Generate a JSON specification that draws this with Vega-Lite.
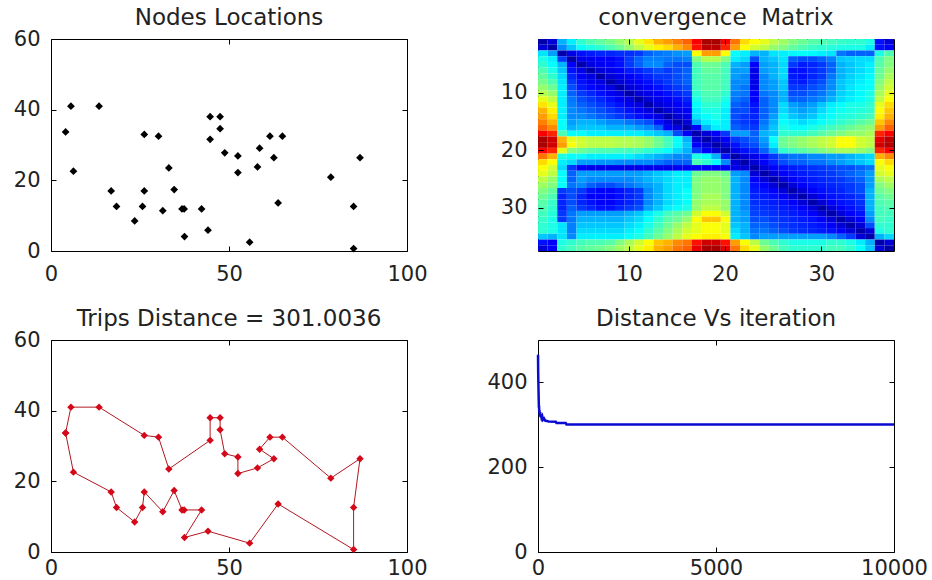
{
"$schema": "https://vega.github.io/schema/vega-lite/v6.json",
"background": "white",
"padding": {"left": 12, "top": 6, "right": 10, "bottom": 2},
"columns": 2,
"spacing": {"row": 89, "column": 131},
"bounds": "flush",
"config": {
  "view": {"stroke": "black", "strokeWidth": 1},
  "font": "DejaVu Sans",
  "axis": {"domain": false, "grid": false, "tickSize": -5, "tickColor": "black", "labelPadding": 16, "labelFont": "DejaVu Sans", "labelFontSize": 21, "labelColor": "#222222", "labelFlush": false, "labelOverlap": false},
  "title": {"font": "DejaVu Sans", "fontSize": 23, "fontWeight": "normal", "color": "#222222", "offset": 0}
},
"datasets": {
  "nodes": [
    {"i":1,"x":4.1,"y":33.7},{"i":2,"x":5.6,"y":41.0},{"i":3,"x":13.5,"y":41.0},{"i":4,"x":26.2,"y":33.0},{"i":5,"x":30.2,"y":32.5},{"i":6,"x":33.1,"y":23.5},{"i":7,"x":44.7,"y":31.6},{"i":8,"x":44.7,"y":38.0},{"i":9,"x":47.5,"y":38.0},{"i":10,"x":47.5,"y":34.6},{"i":11,"x":48.8,"y":27.8},{"i":12,"x":52.5,"y":26.9},{"i":13,"x":52.5,"y":22.2},{"i":14,"x":58.0,"y":23.8},{"i":15,"x":62.6,"y":26.4},{"i":16,"x":58.6,"y":29.1},{"i":17,"x":61.5,"y":32.5},{"i":18,"x":65.0,"y":32.5},{"i":19,"x":78.6,"y":20.9},{"i":20,"x":86.8,"y":26.4},{"i":21,"x":85.0,"y":12.6},{"i":22,"x":85.0,"y":0.7},{"i":23,"x":63.8,"y":13.6},{"i":24,"x":55.8,"y":2.5},{"i":25,"x":44.1,"y":5.9},{"i":26,"x":37.5,"y":4.1},{"i":27,"x":42.3,"y":11.9},{"i":28,"x":37.4,"y":11.9},{"i":29,"x":36.8,"y":11.9},{"i":30,"x":34.6,"y":17.4},{"i":31,"x":31.4,"y":11.4},{"i":32,"x":26.2,"y":17.0},{"i":33,"x":25.7,"y":12.6},{"i":34,"x":23.5,"y":8.5},{"i":35,"x":18.4,"y":12.6},{"i":36,"x":16.9,"y":17.0},{"i":37,"x":6.3,"y":22.6}
  ],
  "tour": [
    {"i":1,"x":4.1,"y":33.7},{"i":2,"x":5.6,"y":41.0},{"i":3,"x":13.5,"y":41.0},{"i":4,"x":26.2,"y":33.0},{"i":5,"x":30.2,"y":32.5},{"i":6,"x":33.1,"y":23.5},{"i":7,"x":44.7,"y":31.6},{"i":8,"x":44.7,"y":38.0},{"i":9,"x":47.5,"y":38.0},{"i":10,"x":47.5,"y":34.6},{"i":11,"x":48.8,"y":27.8},{"i":12,"x":52.5,"y":26.9},{"i":13,"x":52.5,"y":22.2},{"i":14,"x":58.0,"y":23.8},{"i":15,"x":62.6,"y":26.4},{"i":16,"x":58.6,"y":29.1},{"i":17,"x":61.5,"y":32.5},{"i":18,"x":65.0,"y":32.5},{"i":19,"x":78.6,"y":20.9},{"i":20,"x":86.8,"y":26.4},{"i":21,"x":85.0,"y":12.6},{"i":22,"x":85.0,"y":0.7},{"i":23,"x":63.8,"y":13.6},{"i":24,"x":55.8,"y":2.5},{"i":25,"x":44.1,"y":5.9},{"i":26,"x":37.5,"y":4.1},{"i":27,"x":42.3,"y":11.9},{"i":28,"x":37.4,"y":11.9},{"i":29,"x":36.8,"y":11.9},{"i":30,"x":34.6,"y":17.4},{"i":31,"x":31.4,"y":11.4},{"i":32,"x":26.2,"y":17.0},{"i":33,"x":25.7,"y":12.6},{"i":34,"x":23.5,"y":8.5},{"i":35,"x":18.4,"y":12.6},{"i":36,"x":16.9,"y":17.0},{"i":37,"x":6.3,"y":22.6},{"i":38,"x":4.1,"y":33.7}
  ],
  "conv": [
    {"it":1,"d":465},{"it":3,"d":440},{"it":6,"d":420},{"it":10,"d":400},{"it":15,"d":380},{"it":20,"d":360},{"it":25,"d":340},{"it":30,"d":345},{"it":35,"d":330},{"it":40,"d":335},{"it":50,"d":322},{"it":60,"d":330},{"it":70,"d":318},{"it":80,"d":325},{"it":100,"d":316},{"it":120,"d":320},{"it":140,"d":312},{"it":170,"d":315},{"it":200,"d":310},{"it":250,"d":309},{"it":300,"d":308},{"it":500,"d":307},{"it":520,"d":304},{"it":780,"d":304},{"it":800,"d":301},{"it":10000,"d":301}
  ],
  "m": [
{"r":1,"c":1,"v":3},{"r":1,"c":2,"v":8},{"r":1,"c":3,"v":30},{"r":1,"c":4,"v":36},{"r":1,"c":5,"v":42},{"r":1,"c":6,"v":45},{"r":1,"c":7,"v":47},{"r":1,"c":8,"v":49},{"r":1,"c":9,"v":52},{"r":1,"c":10,"v":55},{"r":1,"c":11,"v":60},{"r":1,"c":12,"v":65},{"r":1,"c":13,"v":70},{"r":1,"c":14,"v":72},{"r":1,"c":15,"v":75},{"r":1,"c":16,"v":78},{"r":1,"c":17,"v":88},{"r":1,"c":18,"v":96},{"r":1,"c":19,"v":96},{"r":1,"c":20,"v":88},{"r":1,"c":21,"v":76},{"r":1,"c":22,"v":66},{"r":1,"c":23,"v":62},{"r":1,"c":24,"v":60},{"r":1,"c":25,"v":56},{"r":1,"c":26,"v":53},{"r":1,"c":27,"v":50},{"r":1,"c":28,"v":48},{"r":1,"c":29,"v":46},{"r":1,"c":30,"v":45},{"r":1,"c":31,"v":44},{"r":1,"c":32,"v":43},{"r":1,"c":33,"v":42},{"r":1,"c":34,"v":42},{"r":1,"c":35,"v":40},{"r":1,"c":36,"v":14},{"r":1,"c":37,"v":8},
{"r":2,"c":1,"v":8},{"r":2,"c":2,"v":3},{"r":2,"c":3,"v":26},{"r":2,"c":4,"v":32},{"r":2,"c":5,"v":38},{"r":2,"c":6,"v":40},{"r":2,"c":7,"v":42},{"r":2,"c":8,"v":45},{"r":2,"c":9,"v":48},{"r":2,"c":10,"v":52},{"r":2,"c":11,"v":56},{"r":2,"c":12,"v":60},{"r":2,"c":13,"v":64},{"r":2,"c":14,"v":66},{"r":2,"c":15,"v":70},{"r":2,"c":16,"v":74},{"r":2,"c":17,"v":86},{"r":2,"c":18,"v":94},{"r":2,"c":19,"v":94},{"r":2,"c":20,"v":84},{"r":2,"c":21,"v":72},{"r":2,"c":22,"v":62},{"r":2,"c":23,"v":58},{"r":2,"c":24,"v":56},{"r":2,"c":25,"v":52},{"r":2,"c":26,"v":50},{"r":2,"c":27,"v":47},{"r":2,"c":28,"v":45},{"r":2,"c":29,"v":43},{"r":2,"c":30,"v":42},{"r":2,"c":31,"v":41},{"r":2,"c":32,"v":40},{"r":2,"c":33,"v":40},{"r":2,"c":34,"v":40},{"r":2,"c":35,"v":36},{"r":2,"c":36,"v":14},{"r":2,"c":37,"v":12},
{"r":3,"c":1,"v":35},{"r":3,"c":2,"v":28},{"r":3,"c":3,"v":3},{"r":3,"c":4,"v":10},{"r":3,"c":5,"v":14},{"r":3,"c":6,"v":15},{"r":3,"c":7,"v":16},{"r":3,"c":8,"v":16},{"r":3,"c":9,"v":17},{"r":3,"c":10,"v":17},{"r":3,"c":11,"v":18},{"r":3,"c":12,"v":22},{"r":3,"c":13,"v":24},{"r":3,"c":14,"v":25},{"r":3,"c":15,"v":27},{"r":3,"c":16,"v":28},{"r":3,"c":17,"v":62},{"r":3,"c":18,"v":72},{"r":3,"c":19,"v":72},{"r":3,"c":20,"v":62},{"r":3,"c":21,"v":38},{"r":3,"c":22,"v":36},{"r":3,"c":23,"v":30},{"r":3,"c":24,"v":30},{"r":3,"c":25,"v":35},{"r":3,"c":26,"v":36},{"r":3,"c":27,"v":37},{"r":3,"c":28,"v":38},{"r":3,"c":29,"v":37},{"r":3,"c":30,"v":36},{"r":3,"c":31,"v":35},{"r":3,"c":32,"v":24},{"r":3,"c":33,"v":22},{"r":3,"c":34,"v":22},{"r":3,"c":35,"v":22},{"r":3,"c":36,"v":40},{"r":3,"c":37,"v":45},
{"r":4,"c":1,"v":40},{"r":4,"c":2,"v":36},{"r":4,"c":3,"v":18},{"r":4,"c":4,"v":3},{"r":4,"c":5,"v":10},{"r":4,"c":6,"v":11},{"r":4,"c":7,"v":12},{"r":4,"c":8,"v":12},{"r":4,"c":9,"v":14},{"r":4,"c":10,"v":18},{"r":4,"c":11,"v":22},{"r":4,"c":12,"v":25},{"r":4,"c":13,"v":25},{"r":4,"c":14,"v":24},{"r":4,"c":15,"v":24},{"r":4,"c":16,"v":25},{"r":4,"c":17,"v":50},{"r":4,"c":18,"v":55},{"r":4,"c":19,"v":55},{"r":4,"c":20,"v":50},{"r":4,"c":21,"v":36},{"r":4,"c":22,"v":34},{"r":4,"c":23,"v":20},{"r":4,"c":24,"v":30},{"r":4,"c":25,"v":32},{"r":4,"c":26,"v":35},{"r":4,"c":27,"v":22},{"r":4,"c":28,"v":20},{"r":4,"c":29,"v":20},{"r":4,"c":30,"v":22},{"r":4,"c":31,"v":25},{"r":4,"c":32,"v":32},{"r":4,"c":33,"v":33},{"r":4,"c":34,"v":34},{"r":4,"c":35,"v":34},{"r":4,"c":36,"v":45},{"r":4,"c":37,"v":50},
{"r":5,"c":1,"v":42},{"r":5,"c":2,"v":38},{"r":5,"c":3,"v":30},{"r":5,"c":4,"v":12},{"r":5,"c":5,"v":3},{"r":5,"c":6,"v":9},{"r":5,"c":7,"v":11},{"r":5,"c":8,"v":12},{"r":5,"c":9,"v":14},{"r":5,"c":10,"v":18},{"r":5,"c":11,"v":22},{"r":5,"c":12,"v":26},{"r":5,"c":13,"v":26},{"r":5,"c":14,"v":22},{"r":5,"c":15,"v":20},{"r":5,"c":16,"v":20},{"r":5,"c":17,"v":45},{"r":5,"c":18,"v":48},{"r":5,"c":19,"v":48},{"r":5,"c":20,"v":45},{"r":5,"c":21,"v":30},{"r":5,"c":22,"v":28},{"r":5,"c":23,"v":12},{"r":5,"c":24,"v":28},{"r":5,"c":25,"v":30},{"r":5,"c":26,"v":34},{"r":5,"c":27,"v":18},{"r":5,"c":28,"v":15},{"r":5,"c":29,"v":16},{"r":5,"c":30,"v":18},{"r":5,"c":31,"v":22},{"r":5,"c":32,"v":30},{"r":5,"c":33,"v":32},{"r":5,"c":34,"v":34},{"r":5,"c":35,"v":36},{"r":5,"c":36,"v":46},{"r":5,"c":37,"v":50},
{"r":6,"c":1,"v":45},{"r":6,"c":2,"v":40},{"r":6,"c":3,"v":32},{"r":6,"c":4,"v":14},{"r":6,"c":5,"v":10},{"r":6,"c":6,"v":3},{"r":6,"c":7,"v":8},{"r":6,"c":8,"v":10},{"r":6,"c":9,"v":12},{"r":6,"c":10,"v":15},{"r":6,"c":11,"v":16},{"r":6,"c":12,"v":18},{"r":6,"c":13,"v":20},{"r":6,"c":14,"v":18},{"r":6,"c":15,"v":20},{"r":6,"c":16,"v":22},{"r":6,"c":17,"v":44},{"r":6,"c":18,"v":47},{"r":6,"c":19,"v":47},{"r":6,"c":20,"v":44},{"r":6,"c":21,"v":28},{"r":6,"c":22,"v":28},{"r":6,"c":23,"v":10},{"r":6,"c":24,"v":28},{"r":6,"c":25,"v":30},{"r":6,"c":26,"v":34},{"r":6,"c":27,"v":14},{"r":6,"c":28,"v":14},{"r":6,"c":29,"v":16},{"r":6,"c":30,"v":18},{"r":6,"c":31,"v":22},{"r":6,"c":32,"v":30},{"r":6,"c":33,"v":32},{"r":6,"c":34,"v":34},{"r":6,"c":35,"v":36},{"r":6,"c":36,"v":47},{"r":6,"c":37,"v":52},
{"r":7,"c":1,"v":47},{"r":7,"c":2,"v":42},{"r":7,"c":3,"v":34},{"r":7,"c":4,"v":16},{"r":7,"c":5,"v":12},{"r":7,"c":6,"v":9},{"r":7,"c":7,"v":3},{"r":7,"c":8,"v":8},{"r":7,"c":9,"v":10},{"r":7,"c":10,"v":12},{"r":7,"c":11,"v":14},{"r":7,"c":12,"v":16},{"r":7,"c":13,"v":18},{"r":7,"c":14,"v":18},{"r":7,"c":15,"v":20},{"r":7,"c":16,"v":22},{"r":7,"c":17,"v":44},{"r":7,"c":18,"v":46},{"r":7,"c":19,"v":46},{"r":7,"c":20,"v":44},{"r":7,"c":21,"v":28},{"r":7,"c":22,"v":26},{"r":7,"c":23,"v":10},{"r":7,"c":24,"v":26},{"r":7,"c":25,"v":30},{"r":7,"c":26,"v":34},{"r":7,"c":27,"v":15},{"r":7,"c":28,"v":14},{"r":7,"c":29,"v":16},{"r":7,"c":30,"v":18},{"r":7,"c":31,"v":24},{"r":7,"c":32,"v":30},{"r":7,"c":33,"v":33},{"r":7,"c":34,"v":35},{"r":7,"c":35,"v":37},{"r":7,"c":36,"v":48},{"r":7,"c":37,"v":54},
{"r":8,"c":1,"v":49},{"r":8,"c":2,"v":45},{"r":8,"c":3,"v":35},{"r":8,"c":4,"v":18},{"r":8,"c":5,"v":14},{"r":8,"c":6,"v":11},{"r":8,"c":7,"v":9},{"r":8,"c":8,"v":3},{"r":8,"c":9,"v":8},{"r":8,"c":10,"v":10},{"r":8,"c":11,"v":12},{"r":8,"c":12,"v":14},{"r":8,"c":13,"v":16},{"r":8,"c":14,"v":18},{"r":8,"c":15,"v":20},{"r":8,"c":16,"v":22},{"r":8,"c":17,"v":44},{"r":8,"c":18,"v":46},{"r":8,"c":19,"v":46},{"r":8,"c":20,"v":44},{"r":8,"c":21,"v":26},{"r":8,"c":22,"v":26},{"r":8,"c":23,"v":10},{"r":8,"c":24,"v":26},{"r":8,"c":25,"v":28},{"r":8,"c":26,"v":32},{"r":8,"c":27,"v":16},{"r":8,"c":28,"v":15},{"r":8,"c":29,"v":18},{"r":8,"c":30,"v":20},{"r":8,"c":31,"v":26},{"r":8,"c":32,"v":32},{"r":8,"c":33,"v":34},{"r":8,"c":34,"v":36},{"r":8,"c":35,"v":38},{"r":8,"c":36,"v":50},{"r":8,"c":37,"v":56},
{"r":9,"c":1,"v":52},{"r":9,"c":2,"v":48},{"r":9,"c":3,"v":36},{"r":9,"c":4,"v":20},{"r":9,"c":5,"v":15},{"r":9,"c":6,"v":13},{"r":9,"c":7,"v":11},{"r":9,"c":8,"v":9},{"r":9,"c":9,"v":3},{"r":9,"c":10,"v":8},{"r":9,"c":11,"v":10},{"r":9,"c":12,"v":12},{"r":9,"c":13,"v":14},{"r":9,"c":14,"v":16},{"r":9,"c":15,"v":18},{"r":9,"c":16,"v":20},{"r":9,"c":17,"v":44},{"r":9,"c":18,"v":46},{"r":9,"c":19,"v":46},{"r":9,"c":20,"v":44},{"r":9,"c":21,"v":26},{"r":9,"c":22,"v":24},{"r":9,"c":23,"v":10},{"r":9,"c":24,"v":26},{"r":9,"c":25,"v":28},{"r":9,"c":26,"v":32},{"r":9,"c":27,"v":18},{"r":9,"c":28,"v":18},{"r":9,"c":29,"v":20},{"r":9,"c":30,"v":22},{"r":9,"c":31,"v":26},{"r":9,"c":32,"v":32},{"r":9,"c":33,"v":35},{"r":9,"c":34,"v":37},{"r":9,"c":35,"v":38},{"r":9,"c":36,"v":52},{"r":9,"c":37,"v":58},
{"r":10,"c":1,"v":55},{"r":10,"c":2,"v":52},{"r":10,"c":3,"v":36},{"r":10,"c":4,"v":22},{"r":10,"c":5,"v":18},{"r":10,"c":6,"v":16},{"r":10,"c":7,"v":14},{"r":10,"c":8,"v":11},{"r":10,"c":9,"v":9},{"r":10,"c":10,"v":3},{"r":10,"c":11,"v":8},{"r":10,"c":12,"v":10},{"r":10,"c":13,"v":12},{"r":10,"c":14,"v":14},{"r":10,"c":15,"v":16},{"r":10,"c":16,"v":18},{"r":10,"c":17,"v":42},{"r":10,"c":18,"v":45},{"r":10,"c":19,"v":45},{"r":10,"c":20,"v":42},{"r":10,"c":21,"v":25},{"r":10,"c":22,"v":24},{"r":10,"c":23,"v":12},{"r":10,"c":24,"v":24},{"r":10,"c":25,"v":26},{"r":10,"c":26,"v":30},{"r":10,"c":27,"v":20},{"r":10,"c":28,"v":20},{"r":10,"c":29,"v":22},{"r":10,"c":30,"v":24},{"r":10,"c":31,"v":28},{"r":10,"c":32,"v":33},{"r":10,"c":33,"v":35},{"r":10,"c":34,"v":37},{"r":10,"c":35,"v":40},{"r":10,"c":36,"v":54},{"r":10,"c":37,"v":60},
{"r":11,"c":1,"v":60},{"r":11,"c":2,"v":56},{"r":11,"c":3,"v":36},{"r":11,"c":4,"v":24},{"r":11,"c":5,"v":20},{"r":11,"c":6,"v":18},{"r":11,"c":7,"v":16},{"r":11,"c":8,"v":14},{"r":11,"c":9,"v":11},{"r":11,"c":10,"v":9},{"r":11,"c":11,"v":3},{"r":11,"c":12,"v":8},{"r":11,"c":13,"v":10},{"r":11,"c":14,"v":12},{"r":11,"c":15,"v":14},{"r":11,"c":16,"v":16},{"r":11,"c":17,"v":40},{"r":11,"c":18,"v":44},{"r":11,"c":19,"v":44},{"r":11,"c":20,"v":40},{"r":11,"c":21,"v":24},{"r":11,"c":22,"v":22},{"r":11,"c":23,"v":12},{"r":11,"c":24,"v":22},{"r":11,"c":25,"v":26},{"r":11,"c":26,"v":30},{"r":11,"c":27,"v":22},{"r":11,"c":28,"v":22},{"r":11,"c":29,"v":24},{"r":11,"c":30,"v":26},{"r":11,"c":31,"v":30},{"r":11,"c":32,"v":34},{"r":11,"c":33,"v":36},{"r":11,"c":34,"v":38},{"r":11,"c":35,"v":40},{"r":11,"c":36,"v":56},{"r":11,"c":37,"v":62},
{"r":12,"c":1,"v":65},{"r":12,"c":2,"v":60},{"r":12,"c":3,"v":36},{"r":12,"c":4,"v":25},{"r":12,"c":5,"v":22},{"r":12,"c":6,"v":20},{"r":12,"c":7,"v":18},{"r":12,"c":8,"v":16},{"r":12,"c":9,"v":14},{"r":12,"c":10,"v":11},{"r":12,"c":11,"v":9},{"r":12,"c":12,"v":3},{"r":12,"c":13,"v":8},{"r":12,"c":14,"v":10},{"r":12,"c":15,"v":12},{"r":12,"c":16,"v":14},{"r":12,"c":17,"v":38},{"r":12,"c":18,"v":42},{"r":12,"c":19,"v":42},{"r":12,"c":20,"v":38},{"r":12,"c":21,"v":22},{"r":12,"c":22,"v":20},{"r":12,"c":23,"v":14},{"r":12,"c":24,"v":22},{"r":12,"c":25,"v":26},{"r":12,"c":26,"v":34},{"r":12,"c":27,"v":28},{"r":12,"c":28,"v":26},{"r":12,"c":29,"v":28},{"r":12,"c":30,"v":32},{"r":12,"c":31,"v":36},{"r":12,"c":32,"v":38},{"r":12,"c":33,"v":40},{"r":12,"c":34,"v":40},{"r":12,"c":35,"v":42},{"r":12,"c":36,"v":60},{"r":12,"c":37,"v":66},
{"r":13,"c":1,"v":70},{"r":13,"c":2,"v":64},{"r":13,"c":3,"v":36},{"r":13,"c":4,"v":26},{"r":13,"c":5,"v":24},{"r":13,"c":6,"v":22},{"r":13,"c":7,"v":20},{"r":13,"c":8,"v":18},{"r":13,"c":9,"v":16},{"r":13,"c":10,"v":14},{"r":13,"c":11,"v":11},{"r":13,"c":12,"v":9},{"r":13,"c":13,"v":3},{"r":13,"c":14,"v":8},{"r":13,"c":15,"v":10},{"r":13,"c":16,"v":12},{"r":13,"c":17,"v":36},{"r":13,"c":18,"v":40},{"r":13,"c":19,"v":40},{"r":13,"c":20,"v":36},{"r":13,"c":21,"v":20},{"r":13,"c":22,"v":20},{"r":13,"c":23,"v":15},{"r":13,"c":24,"v":22},{"r":13,"c":25,"v":26},{"r":13,"c":26,"v":34},{"r":13,"c":27,"v":30},{"r":13,"c":28,"v":28},{"r":13,"c":29,"v":30},{"r":13,"c":30,"v":34},{"r":13,"c":31,"v":37},{"r":13,"c":32,"v":39},{"r":13,"c":33,"v":40},{"r":13,"c":34,"v":41},{"r":13,"c":35,"v":42},{"r":13,"c":36,"v":62},{"r":13,"c":37,"v":68},
{"r":14,"c":1,"v":72},{"r":14,"c":2,"v":66},{"r":14,"c":3,"v":36},{"r":14,"c":4,"v":26},{"r":14,"c":5,"v":26},{"r":14,"c":6,"v":24},{"r":14,"c":7,"v":22},{"r":14,"c":8,"v":20},{"r":14,"c":9,"v":18},{"r":14,"c":10,"v":16},{"r":14,"c":11,"v":14},{"r":14,"c":12,"v":11},{"r":14,"c":13,"v":9},{"r":14,"c":14,"v":3},{"r":14,"c":15,"v":8},{"r":14,"c":16,"v":10},{"r":14,"c":17,"v":35},{"r":14,"c":18,"v":38},{"r":14,"c":19,"v":40},{"r":14,"c":20,"v":36},{"r":14,"c":21,"v":20},{"r":14,"c":22,"v":18},{"r":14,"c":23,"v":16},{"r":14,"c":24,"v":22},{"r":14,"c":25,"v":28},{"r":14,"c":26,"v":36},{"r":14,"c":27,"v":32},{"r":14,"c":28,"v":30},{"r":14,"c":29,"v":32},{"r":14,"c":30,"v":36},{"r":14,"c":31,"v":38},{"r":14,"c":32,"v":40},{"r":14,"c":33,"v":41},{"r":14,"c":34,"v":42},{"r":14,"c":35,"v":44},{"r":14,"c":36,"v":64},{"r":14,"c":37,"v":70},
{"r":15,"c":1,"v":75},{"r":15,"c":2,"v":70},{"r":15,"c":3,"v":38},{"r":15,"c":4,"v":28},{"r":15,"c":5,"v":30},{"r":15,"c":6,"v":30},{"r":15,"c":7,"v":28},{"r":15,"c":8,"v":26},{"r":15,"c":9,"v":26},{"r":15,"c":10,"v":24},{"r":15,"c":11,"v":22},{"r":15,"c":12,"v":20},{"r":15,"c":13,"v":14},{"r":15,"c":14,"v":9},{"r":15,"c":15,"v":3},{"r":15,"c":16,"v":8},{"r":15,"c":17,"v":30},{"r":15,"c":18,"v":36},{"r":15,"c":19,"v":38},{"r":15,"c":20,"v":36},{"r":15,"c":21,"v":20},{"r":15,"c":22,"v":18},{"r":15,"c":23,"v":16},{"r":15,"c":24,"v":24},{"r":15,"c":25,"v":30},{"r":15,"c":26,"v":38},{"r":15,"c":27,"v":36},{"r":15,"c":28,"v":34},{"r":15,"c":29,"v":36},{"r":15,"c":30,"v":38},{"r":15,"c":31,"v":40},{"r":15,"c":32,"v":42},{"r":15,"c":33,"v":44},{"r":15,"c":34,"v":46},{"r":15,"c":35,"v":48},{"r":15,"c":36,"v":68},{"r":15,"c":37,"v":74},
{"r":16,"c":1,"v":78},{"r":16,"c":2,"v":74},{"r":16,"c":3,"v":38},{"r":16,"c":4,"v":30},{"r":16,"c":5,"v":32},{"r":16,"c":6,"v":32},{"r":16,"c":7,"v":32},{"r":16,"c":8,"v":30},{"r":16,"c":9,"v":30},{"r":16,"c":10,"v":30},{"r":16,"c":11,"v":28},{"r":16,"c":12,"v":26},{"r":16,"c":13,"v":22},{"r":16,"c":14,"v":12},{"r":16,"c":15,"v":9},{"r":16,"c":16,"v":3},{"r":16,"c":17,"v":12},{"r":16,"c":18,"v":30},{"r":16,"c":19,"v":36},{"r":16,"c":20,"v":36},{"r":16,"c":21,"v":22},{"r":16,"c":22,"v":20},{"r":16,"c":23,"v":18},{"r":16,"c":24,"v":26},{"r":16,"c":25,"v":32},{"r":16,"c":26,"v":40},{"r":16,"c":27,"v":38},{"r":16,"c":28,"v":38},{"r":16,"c":29,"v":40},{"r":16,"c":30,"v":42},{"r":16,"c":31,"v":44},{"r":16,"c":32,"v":46},{"r":16,"c":33,"v":48},{"r":16,"c":34,"v":50},{"r":16,"c":35,"v":52},{"r":16,"c":36,"v":72},{"r":16,"c":37,"v":78},
{"r":17,"c":1,"v":88},{"r":17,"c":2,"v":84},{"r":17,"c":3,"v":45},{"r":17,"c":4,"v":38},{"r":17,"c":5,"v":38},{"r":17,"c":6,"v":36},{"r":17,"c":7,"v":36},{"r":17,"c":8,"v":36},{"r":17,"c":9,"v":36},{"r":17,"c":10,"v":36},{"r":17,"c":11,"v":36},{"r":17,"c":12,"v":34},{"r":17,"c":13,"v":32},{"r":17,"c":14,"v":30},{"r":17,"c":15,"v":20},{"r":17,"c":16,"v":12},{"r":17,"c":17,"v":3},{"r":17,"c":18,"v":8},{"r":17,"c":19,"v":12},{"r":17,"c":20,"v":18},{"r":17,"c":21,"v":28},{"r":17,"c":22,"v":28},{"r":17,"c":23,"v":22},{"r":17,"c":24,"v":30},{"r":17,"c":25,"v":32},{"r":17,"c":26,"v":42},{"r":17,"c":27,"v":42},{"r":17,"c":28,"v":42},{"r":17,"c":29,"v":44},{"r":17,"c":30,"v":46},{"r":17,"c":31,"v":48},{"r":17,"c":32,"v":50},{"r":17,"c":33,"v":52},{"r":17,"c":34,"v":52},{"r":17,"c":35,"v":54},{"r":17,"c":36,"v":84},{"r":17,"c":37,"v":88},
{"r":18,"c":1,"v":96},{"r":18,"c":2,"v":92},{"r":18,"c":3,"v":70},{"r":18,"c":4,"v":60},{"r":18,"c":5,"v":58},{"r":18,"c":6,"v":56},{"r":18,"c":7,"v":56},{"r":18,"c":8,"v":56},{"r":18,"c":9,"v":55},{"r":18,"c":10,"v":55},{"r":18,"c":11,"v":54},{"r":18,"c":12,"v":52},{"r":18,"c":13,"v":48},{"r":18,"c":14,"v":44},{"r":18,"c":15,"v":38},{"r":18,"c":16,"v":30},{"r":18,"c":17,"v":8},{"r":18,"c":18,"v":3},{"r":18,"c":19,"v":8},{"r":18,"c":20,"v":12},{"r":18,"c":21,"v":18},{"r":18,"c":22,"v":20},{"r":18,"c":23,"v":22},{"r":18,"c":24,"v":28},{"r":18,"c":25,"v":38},{"r":18,"c":26,"v":48},{"r":18,"c":27,"v":50},{"r":18,"c":28,"v":52},{"r":18,"c":29,"v":54},{"r":18,"c":30,"v":56},{"r":18,"c":31,"v":58},{"r":18,"c":32,"v":62},{"r":18,"c":33,"v":62},{"r":18,"c":34,"v":58},{"r":18,"c":35,"v":56},{"r":18,"c":36,"v":90},{"r":18,"c":37,"v":94},
{"r":19,"c":1,"v":96},{"r":19,"c":2,"v":92},{"r":19,"c":3,"v":72},{"r":19,"c":4,"v":62},{"r":19,"c":5,"v":58},{"r":19,"c":6,"v":56},{"r":19,"c":7,"v":56},{"r":19,"c":8,"v":56},{"r":19,"c":9,"v":55},{"r":19,"c":10,"v":55},{"r":19,"c":11,"v":54},{"r":19,"c":12,"v":52},{"r":19,"c":13,"v":48},{"r":19,"c":14,"v":44},{"r":19,"c":15,"v":38},{"r":19,"c":16,"v":32},{"r":19,"c":17,"v":12},{"r":19,"c":18,"v":8},{"r":19,"c":19,"v":3},{"r":19,"c":20,"v":8},{"r":19,"c":21,"v":14},{"r":19,"c":22,"v":18},{"r":19,"c":23,"v":20},{"r":19,"c":24,"v":26},{"r":19,"c":25,"v":36},{"r":19,"c":26,"v":48},{"r":19,"c":27,"v":50},{"r":19,"c":28,"v":52},{"r":19,"c":29,"v":54},{"r":19,"c":30,"v":56},{"r":19,"c":31,"v":58},{"r":19,"c":32,"v":62},{"r":19,"c":33,"v":62},{"r":19,"c":34,"v":58},{"r":19,"c":35,"v":56},{"r":19,"c":36,"v":92},{"r":19,"c":37,"v":95},
{"r":20,"c":1,"v":88},{"r":20,"c":2,"v":84},{"r":20,"c":3,"v":60},{"r":20,"c":4,"v":50},{"r":20,"c":5,"v":48},{"r":20,"c":6,"v":46},{"r":20,"c":7,"v":45},{"r":20,"c":8,"v":45},{"r":20,"c":9,"v":44},{"r":20,"c":10,"v":44},{"r":20,"c":11,"v":44},{"r":20,"c":12,"v":42},{"r":20,"c":13,"v":40},{"r":20,"c":14,"v":38},{"r":20,"c":15,"v":34},{"r":20,"c":16,"v":30},{"r":20,"c":17,"v":18},{"r":20,"c":18,"v":12},{"r":20,"c":19,"v":8},{"r":20,"c":20,"v":3},{"r":20,"c":21,"v":10},{"r":20,"c":22,"v":14},{"r":20,"c":23,"v":16},{"r":20,"c":24,"v":22},{"r":20,"c":25,"v":30},{"r":20,"c":26,"v":42},{"r":20,"c":27,"v":44},{"r":20,"c":28,"v":46},{"r":20,"c":29,"v":48},{"r":20,"c":30,"v":50},{"r":20,"c":31,"v":52},{"r":20,"c":32,"v":54},{"r":20,"c":33,"v":54},{"r":20,"c":34,"v":52},{"r":20,"c":35,"v":50},{"r":20,"c":36,"v":84},{"r":20,"c":37,"v":88},
{"r":21,"c":1,"v":76},{"r":21,"c":2,"v":70},{"r":21,"c":3,"v":40},{"r":21,"c":4,"v":38},{"r":21,"c":5,"v":38},{"r":21,"c":6,"v":36},{"r":21,"c":7,"v":36},{"r":21,"c":8,"v":36},{"r":21,"c":9,"v":36},{"r":21,"c":10,"v":36},{"r":21,"c":11,"v":34},{"r":21,"c":12,"v":32},{"r":21,"c":13,"v":30},{"r":21,"c":14,"v":28},{"r":21,"c":15,"v":26},{"r":21,"c":16,"v":26},{"r":21,"c":17,"v":40},{"r":21,"c":18,"v":38},{"r":21,"c":19,"v":30},{"r":21,"c":20,"v":14},{"r":21,"c":21,"v":3},{"r":21,"c":22,"v":8},{"r":21,"c":23,"v":10},{"r":21,"c":24,"v":14},{"r":21,"c":25,"v":18},{"r":21,"c":26,"v":22},{"r":21,"c":27,"v":24},{"r":21,"c":28,"v":24},{"r":21,"c":29,"v":26},{"r":21,"c":30,"v":26},{"r":21,"c":31,"v":28},{"r":21,"c":32,"v":28},{"r":21,"c":33,"v":30},{"r":21,"c":34,"v":32},{"r":21,"c":35,"v":34},{"r":21,"c":36,"v":70},{"r":21,"c":37,"v":74},
{"r":22,"c":1,"v":66},{"r":22,"c":2,"v":62},{"r":22,"c":3,"v":36},{"r":22,"c":4,"v":34},{"r":22,"c":5,"v":28},{"r":22,"c":6,"v":28},{"r":22,"c":7,"v":27},{"r":22,"c":8,"v":27},{"r":22,"c":9,"v":26},{"r":22,"c":10,"v":26},{"r":22,"c":11,"v":26},{"r":22,"c":12,"v":26},{"r":22,"c":13,"v":24},{"r":22,"c":14,"v":22},{"r":22,"c":15,"v":22},{"r":22,"c":16,"v":22},{"r":22,"c":17,"v":45},{"r":22,"c":18,"v":42},{"r":22,"c":19,"v":38},{"r":22,"c":20,"v":26},{"r":22,"c":21,"v":8},{"r":22,"c":22,"v":3},{"r":22,"c":23,"v":8},{"r":22,"c":24,"v":12},{"r":22,"c":25,"v":16},{"r":22,"c":26,"v":20},{"r":22,"c":27,"v":22},{"r":22,"c":28,"v":22},{"r":22,"c":29,"v":24},{"r":22,"c":30,"v":24},{"r":22,"c":31,"v":26},{"r":22,"c":32,"v":28},{"r":22,"c":33,"v":30},{"r":22,"c":34,"v":32},{"r":22,"c":35,"v":34},{"r":22,"c":36,"v":62},{"r":22,"c":37,"v":66},
{"r":23,"c":1,"v":62},{"r":23,"c":2,"v":58},{"r":23,"c":3,"v":34},{"r":23,"c":4,"v":18},{"r":23,"c":5,"v":12},{"r":23,"c":6,"v":10},{"r":23,"c":7,"v":10},{"r":23,"c":8,"v":10},{"r":23,"c":9,"v":10},{"r":23,"c":10,"v":10},{"r":23,"c":11,"v":10},{"r":23,"c":12,"v":10},{"r":23,"c":13,"v":10},{"r":23,"c":14,"v":10},{"r":23,"c":15,"v":11},{"r":23,"c":16,"v":11},{"r":23,"c":17,"v":12},{"r":23,"c":18,"v":12},{"r":23,"c":19,"v":12},{"r":23,"c":20,"v":12},{"r":23,"c":21,"v":10},{"r":23,"c":22,"v":8},{"r":23,"c":23,"v":3},{"r":23,"c":24,"v":8},{"r":23,"c":25,"v":12},{"r":23,"c":26,"v":14},{"r":23,"c":27,"v":15},{"r":23,"c":28,"v":16},{"r":23,"c":29,"v":17},{"r":23,"c":30,"v":18},{"r":23,"c":31,"v":19},{"r":23,"c":32,"v":20},{"r":23,"c":33,"v":20},{"r":23,"c":34,"v":22},{"r":23,"c":35,"v":24},{"r":23,"c":36,"v":60},{"r":23,"c":37,"v":62},
{"r":24,"c":1,"v":60},{"r":24,"c":2,"v":56},{"r":24,"c":3,"v":38},{"r":24,"c":4,"v":22},{"r":24,"c":5,"v":28},{"r":24,"c":6,"v":28},{"r":24,"c":7,"v":28},{"r":24,"c":8,"v":28},{"r":24,"c":9,"v":28},{"r":24,"c":10,"v":28},{"r":24,"c":11,"v":28},{"r":24,"c":12,"v":30},{"r":24,"c":13,"v":32},{"r":24,"c":14,"v":34},{"r":24,"c":15,"v":36},{"r":24,"c":16,"v":36},{"r":24,"c":17,"v":48},{"r":24,"c":18,"v":50},{"r":24,"c":19,"v":50},{"r":24,"c":20,"v":48},{"r":24,"c":21,"v":28},{"r":24,"c":22,"v":26},{"r":24,"c":23,"v":8},{"r":24,"c":24,"v":3},{"r":24,"c":25,"v":8},{"r":24,"c":26,"v":12},{"r":24,"c":27,"v":14},{"r":24,"c":28,"v":15},{"r":24,"c":29,"v":16},{"r":24,"c":30,"v":17},{"r":24,"c":31,"v":18},{"r":24,"c":32,"v":20},{"r":24,"c":33,"v":22},{"r":24,"c":34,"v":24},{"r":24,"c":35,"v":28},{"r":24,"c":36,"v":58},{"r":24,"c":37,"v":60},
{"r":25,"c":1,"v":56},{"r":25,"c":2,"v":52},{"r":25,"c":3,"v":38},{"r":25,"c":4,"v":22},{"r":25,"c":5,"v":28},{"r":25,"c":6,"v":26},{"r":25,"c":7,"v":26},{"r":25,"c":8,"v":26},{"r":25,"c":9,"v":26},{"r":25,"c":10,"v":26},{"r":25,"c":11,"v":28},{"r":25,"c":12,"v":30},{"r":25,"c":13,"v":32},{"r":25,"c":14,"v":34},{"r":25,"c":15,"v":36},{"r":25,"c":16,"v":36},{"r":25,"c":17,"v":50},{"r":25,"c":18,"v":52},{"r":25,"c":19,"v":52},{"r":25,"c":20,"v":50},{"r":25,"c":21,"v":30},{"r":25,"c":22,"v":26},{"r":25,"c":23,"v":12},{"r":25,"c":24,"v":8},{"r":25,"c":25,"v":3},{"r":25,"c":26,"v":8},{"r":25,"c":27,"v":12},{"r":25,"c":28,"v":14},{"r":25,"c":29,"v":15},{"r":25,"c":30,"v":16},{"r":25,"c":31,"v":17},{"r":25,"c":32,"v":18},{"r":25,"c":33,"v":20},{"r":25,"c":34,"v":22},{"r":25,"c":35,"v":28},{"r":25,"c":36,"v":54},{"r":25,"c":37,"v":56},
{"r":26,"c":1,"v":53},{"r":26,"c":2,"v":50},{"r":26,"c":3,"v":38},{"r":26,"c":4,"v":24},{"r":26,"c":5,"v":26},{"r":26,"c":6,"v":22},{"r":26,"c":7,"v":20},{"r":26,"c":8,"v":20},{"r":26,"c":9,"v":22},{"r":26,"c":10,"v":24},{"r":26,"c":11,"v":26},{"r":26,"c":12,"v":28},{"r":26,"c":13,"v":30},{"r":26,"c":14,"v":34},{"r":26,"c":15,"v":36},{"r":26,"c":16,"v":36},{"r":26,"c":17,"v":50},{"r":26,"c":18,"v":52},{"r":26,"c":19,"v":52},{"r":26,"c":20,"v":50},{"r":26,"c":21,"v":30},{"r":26,"c":22,"v":26},{"r":26,"c":23,"v":14},{"r":26,"c":24,"v":12},{"r":26,"c":25,"v":8},{"r":26,"c":26,"v":3},{"r":26,"c":27,"v":8},{"r":26,"c":28,"v":12},{"r":26,"c":29,"v":14},{"r":26,"c":30,"v":15},{"r":26,"c":31,"v":16},{"r":26,"c":32,"v":17},{"r":26,"c":33,"v":18},{"r":26,"c":34,"v":20},{"r":26,"c":35,"v":28},{"r":26,"c":36,"v":50},{"r":26,"c":37,"v":53},
{"r":27,"c":1,"v":50},{"r":27,"c":2,"v":47},{"r":27,"c":3,"v":18},{"r":27,"c":4,"v":20},{"r":27,"c":5,"v":18},{"r":27,"c":6,"v":14},{"r":27,"c":7,"v":12},{"r":27,"c":8,"v":12},{"r":27,"c":9,"v":14},{"r":27,"c":10,"v":16},{"r":27,"c":11,"v":18},{"r":27,"c":12,"v":26},{"r":27,"c":13,"v":30},{"r":27,"c":14,"v":34},{"r":27,"c":15,"v":36},{"r":27,"c":16,"v":38},{"r":27,"c":17,"v":50},{"r":27,"c":18,"v":52},{"r":27,"c":19,"v":52},{"r":27,"c":20,"v":50},{"r":27,"c":21,"v":30},{"r":27,"c":22,"v":26},{"r":27,"c":23,"v":15},{"r":27,"c":24,"v":14},{"r":27,"c":25,"v":12},{"r":27,"c":26,"v":8},{"r":27,"c":27,"v":3},{"r":27,"c":28,"v":8},{"r":27,"c":29,"v":12},{"r":27,"c":30,"v":14},{"r":27,"c":31,"v":15},{"r":27,"c":32,"v":16},{"r":27,"c":33,"v":18},{"r":27,"c":34,"v":20},{"r":27,"c":35,"v":30},{"r":27,"c":36,"v":48},{"r":27,"c":37,"v":50},
{"r":28,"c":1,"v":48},{"r":28,"c":2,"v":45},{"r":28,"c":3,"v":16},{"r":28,"c":4,"v":20},{"r":28,"c":5,"v":16},{"r":28,"c":6,"v":12},{"r":28,"c":7,"v":12},{"r":28,"c":8,"v":12},{"r":28,"c":9,"v":14},{"r":28,"c":10,"v":16},{"r":28,"c":11,"v":18},{"r":28,"c":12,"v":26},{"r":28,"c":13,"v":30},{"r":28,"c":14,"v":34},{"r":28,"c":15,"v":36},{"r":28,"c":16,"v":38},{"r":28,"c":17,"v":50},{"r":28,"c":18,"v":54},{"r":28,"c":19,"v":54},{"r":28,"c":20,"v":50},{"r":28,"c":21,"v":30},{"r":28,"c":22,"v":26},{"r":28,"c":23,"v":16},{"r":28,"c":24,"v":15},{"r":28,"c":25,"v":14},{"r":28,"c":26,"v":12},{"r":28,"c":27,"v":8},{"r":28,"c":28,"v":3},{"r":28,"c":29,"v":8},{"r":28,"c":30,"v":12},{"r":28,"c":31,"v":14},{"r":28,"c":32,"v":15},{"r":28,"c":33,"v":16},{"r":28,"c":34,"v":18},{"r":28,"c":35,"v":30},{"r":28,"c":36,"v":46},{"r":28,"c":37,"v":48},
{"r":29,"c":1,"v":46},{"r":29,"c":2,"v":43},{"r":29,"c":3,"v":16},{"r":29,"c":4,"v":20},{"r":29,"c":5,"v":16},{"r":29,"c":6,"v":14},{"r":29,"c":7,"v":12},{"r":29,"c":8,"v":12},{"r":29,"c":9,"v":14},{"r":29,"c":10,"v":16},{"r":29,"c":11,"v":18},{"r":29,"c":12,"v":26},{"r":29,"c":13,"v":30},{"r":29,"c":14,"v":34},{"r":29,"c":15,"v":36},{"r":29,"c":16,"v":38},{"r":29,"c":17,"v":52},{"r":29,"c":18,"v":54},{"r":29,"c":19,"v":54},{"r":29,"c":20,"v":52},{"r":29,"c":21,"v":30},{"r":29,"c":22,"v":26},{"r":29,"c":23,"v":17},{"r":29,"c":24,"v":16},{"r":29,"c":25,"v":15},{"r":29,"c":26,"v":14},{"r":29,"c":27,"v":12},{"r":29,"c":28,"v":8},{"r":29,"c":29,"v":3},{"r":29,"c":30,"v":8},{"r":29,"c":31,"v":12},{"r":29,"c":32,"v":14},{"r":29,"c":33,"v":15},{"r":29,"c":34,"v":17},{"r":29,"c":35,"v":30},{"r":29,"c":36,"v":45},{"r":29,"c":37,"v":46},
{"r":30,"c":1,"v":45},{"r":30,"c":2,"v":42},{"r":30,"c":3,"v":16},{"r":30,"c":4,"v":22},{"r":30,"c":5,"v":18},{"r":30,"c":6,"v":16},{"r":30,"c":7,"v":14},{"r":30,"c":8,"v":14},{"r":30,"c":9,"v":16},{"r":30,"c":10,"v":18},{"r":30,"c":11,"v":20},{"r":30,"c":12,"v":28},{"r":30,"c":13,"v":32},{"r":30,"c":14,"v":36},{"r":30,"c":15,"v":38},{"r":30,"c":16,"v":40},{"r":30,"c":17,"v":52},{"r":30,"c":18,"v":56},{"r":30,"c":19,"v":56},{"r":30,"c":20,"v":52},{"r":30,"c":21,"v":30},{"r":30,"c":22,"v":26},{"r":30,"c":23,"v":18},{"r":30,"c":24,"v":17},{"r":30,"c":25,"v":16},{"r":30,"c":26,"v":15},{"r":30,"c":27,"v":14},{"r":30,"c":28,"v":12},{"r":30,"c":29,"v":8},{"r":30,"c":30,"v":3},{"r":30,"c":31,"v":8},{"r":30,"c":32,"v":12},{"r":30,"c":33,"v":14},{"r":30,"c":34,"v":16},{"r":30,"c":35,"v":30},{"r":30,"c":36,"v":44},{"r":30,"c":37,"v":45},
{"r":31,"c":1,"v":44},{"r":31,"c":2,"v":41},{"r":31,"c":3,"v":18},{"r":31,"c":4,"v":24},{"r":31,"c":5,"v":28},{"r":31,"c":6,"v":28},{"r":31,"c":7,"v":28},{"r":31,"c":8,"v":28},{"r":31,"c":9,"v":28},{"r":31,"c":10,"v":30},{"r":31,"c":11,"v":32},{"r":31,"c":12,"v":36},{"r":31,"c":13,"v":40},{"r":31,"c":14,"v":44},{"r":31,"c":15,"v":46},{"r":31,"c":16,"v":48},{"r":31,"c":17,"v":58},{"r":31,"c":18,"v":62},{"r":31,"c":19,"v":62},{"r":31,"c":20,"v":58},{"r":31,"c":21,"v":30},{"r":31,"c":22,"v":28},{"r":31,"c":23,"v":19},{"r":31,"c":24,"v":18},{"r":31,"c":25,"v":17},{"r":31,"c":26,"v":16},{"r":31,"c":27,"v":15},{"r":31,"c":28,"v":14},{"r":31,"c":29,"v":12},{"r":31,"c":30,"v":8},{"r":31,"c":31,"v":3},{"r":31,"c":32,"v":8},{"r":31,"c":33,"v":12},{"r":31,"c":34,"v":14},{"r":31,"c":35,"v":28},{"r":31,"c":36,"v":44},{"r":31,"c":37,"v":44},
{"r":32,"c":1,"v":43},{"r":32,"c":2,"v":40},{"r":32,"c":3,"v":18},{"r":32,"c":4,"v":24},{"r":32,"c":5,"v":30},{"r":32,"c":6,"v":30},{"r":32,"c":7,"v":30},{"r":32,"c":8,"v":30},{"r":32,"c":9,"v":30},{"r":32,"c":10,"v":32},{"r":32,"c":11,"v":34},{"r":32,"c":12,"v":38},{"r":32,"c":13,"v":42},{"r":32,"c":14,"v":46},{"r":32,"c":15,"v":48},{"r":32,"c":16,"v":52},{"r":32,"c":17,"v":62},{"r":32,"c":18,"v":68},{"r":32,"c":19,"v":68},{"r":32,"c":20,"v":62},{"r":32,"c":21,"v":30},{"r":32,"c":22,"v":28},{"r":32,"c":23,"v":20},{"r":32,"c":24,"v":20},{"r":32,"c":25,"v":18},{"r":32,"c":26,"v":17},{"r":32,"c":27,"v":16},{"r":32,"c":28,"v":15},{"r":32,"c":29,"v":14},{"r":32,"c":30,"v":12},{"r":32,"c":31,"v":8},{"r":32,"c":32,"v":3},{"r":32,"c":33,"v":8},{"r":32,"c":34,"v":12},{"r":32,"c":35,"v":26},{"r":32,"c":36,"v":44},{"r":32,"c":37,"v":43},
{"r":33,"c":1,"v":42},{"r":33,"c":2,"v":40},{"r":33,"c":3,"v":35},{"r":33,"c":4,"v":25},{"r":33,"c":5,"v":32},{"r":33,"c":6,"v":32},{"r":33,"c":7,"v":32},{"r":33,"c":8,"v":32},{"r":33,"c":9,"v":32},{"r":33,"c":10,"v":34},{"r":33,"c":11,"v":36},{"r":33,"c":12,"v":40},{"r":33,"c":13,"v":44},{"r":33,"c":14,"v":48},{"r":33,"c":15,"v":52},{"r":33,"c":16,"v":56},{"r":33,"c":17,"v":60},{"r":33,"c":18,"v":62},{"r":33,"c":19,"v":62},{"r":33,"c":20,"v":60},{"r":33,"c":21,"v":32},{"r":33,"c":22,"v":30},{"r":33,"c":23,"v":22},{"r":33,"c":24,"v":22},{"r":33,"c":25,"v":20},{"r":33,"c":26,"v":18},{"r":33,"c":27,"v":17},{"r":33,"c":28,"v":16},{"r":33,"c":29,"v":15},{"r":33,"c":30,"v":14},{"r":33,"c":31,"v":12},{"r":33,"c":32,"v":8},{"r":33,"c":33,"v":3},{"r":33,"c":34,"v":8},{"r":33,"c":35,"v":20},{"r":33,"c":36,"v":42},{"r":33,"c":37,"v":42},
{"r":34,"c":1,"v":42},{"r":34,"c":2,"v":40},{"r":34,"c":3,"v":35},{"r":34,"c":4,"v":25},{"r":34,"c":5,"v":34},{"r":34,"c":6,"v":34},{"r":34,"c":7,"v":34},{"r":34,"c":8,"v":34},{"r":34,"c":9,"v":34},{"r":34,"c":10,"v":36},{"r":34,"c":11,"v":38},{"r":34,"c":12,"v":42},{"r":34,"c":13,"v":46},{"r":34,"c":14,"v":50},{"r":34,"c":15,"v":54},{"r":34,"c":16,"v":58},{"r":34,"c":17,"v":60},{"r":34,"c":18,"v":62},{"r":34,"c":19,"v":62},{"r":34,"c":20,"v":60},{"r":34,"c":21,"v":34},{"r":34,"c":22,"v":30},{"r":34,"c":23,"v":24},{"r":34,"c":24,"v":24},{"r":34,"c":25,"v":22},{"r":34,"c":26,"v":20},{"r":34,"c":27,"v":18},{"r":34,"c":28,"v":17},{"r":34,"c":29,"v":16},{"r":34,"c":30,"v":15},{"r":34,"c":31,"v":14},{"r":34,"c":32,"v":12},{"r":34,"c":33,"v":8},{"r":34,"c":34,"v":3},{"r":34,"c":35,"v":8},{"r":34,"c":36,"v":40},{"r":34,"c":37,"v":42},
{"r":35,"c":1,"v":32},{"r":35,"c":2,"v":30},{"r":35,"c":3,"v":35},{"r":35,"c":4,"v":26},{"r":35,"c":5,"v":36},{"r":35,"c":6,"v":36},{"r":35,"c":7,"v":36},{"r":35,"c":8,"v":36},{"r":35,"c":9,"v":36},{"r":35,"c":10,"v":38},{"r":35,"c":11,"v":40},{"r":35,"c":12,"v":44},{"r":35,"c":13,"v":48},{"r":35,"c":14,"v":52},{"r":35,"c":15,"v":56},{"r":35,"c":16,"v":60},{"r":35,"c":17,"v":62},{"r":35,"c":18,"v":64},{"r":35,"c":19,"v":64},{"r":35,"c":20,"v":62},{"r":35,"c":21,"v":36},{"r":35,"c":22,"v":32},{"r":35,"c":23,"v":26},{"r":35,"c":24,"v":28},{"r":35,"c":25,"v":28},{"r":35,"c":26,"v":28},{"r":35,"c":27,"v":28},{"r":35,"c":28,"v":28},{"r":35,"c":29,"v":28},{"r":35,"c":30,"v":28},{"r":35,"c":31,"v":26},{"r":35,"c":32,"v":22},{"r":35,"c":33,"v":18},{"r":35,"c":34,"v":8},{"r":35,"c":35,"v":3},{"r":35,"c":36,"v":30},{"r":35,"c":37,"v":34},
{"r":36,"c":1,"v":14},{"r":36,"c":2,"v":12},{"r":36,"c":3,"v":40},{"r":36,"c":4,"v":42},{"r":36,"c":5,"v":44},{"r":36,"c":6,"v":45},{"r":36,"c":7,"v":45},{"r":36,"c":8,"v":46},{"r":36,"c":9,"v":50},{"r":36,"c":10,"v":54},{"r":36,"c":11,"v":58},{"r":36,"c":12,"v":62},{"r":36,"c":13,"v":68},{"r":36,"c":14,"v":70},{"r":36,"c":15,"v":74},{"r":36,"c":16,"v":76},{"r":36,"c":17,"v":86},{"r":36,"c":18,"v":92},{"r":36,"c":19,"v":92},{"r":36,"c":20,"v":86},{"r":36,"c":21,"v":72},{"r":36,"c":22,"v":62},{"r":36,"c":23,"v":56},{"r":36,"c":24,"v":48},{"r":36,"c":25,"v":45},{"r":36,"c":26,"v":42},{"r":36,"c":27,"v":40},{"r":36,"c":28,"v":40},{"r":36,"c":29,"v":40},{"r":36,"c":30,"v":40},{"r":36,"c":31,"v":42},{"r":36,"c":32,"v":42},{"r":36,"c":33,"v":40},{"r":36,"c":34,"v":36},{"r":36,"c":35,"v":30},{"r":36,"c":36,"v":3},{"r":36,"c":37,"v":8},
{"r":37,"c":1,"v":8},{"r":37,"c":2,"v":12},{"r":37,"c":3,"v":42},{"r":37,"c":4,"v":44},{"r":37,"c":5,"v":46},{"r":37,"c":6,"v":47},{"r":37,"c":7,"v":48},{"r":37,"c":8,"v":50},{"r":37,"c":9,"v":53},{"r":37,"c":10,"v":56},{"r":37,"c":11,"v":60},{"r":37,"c":12,"v":64},{"r":37,"c":13,"v":70},{"r":37,"c":14,"v":72},{"r":37,"c":15,"v":76},{"r":37,"c":16,"v":78},{"r":37,"c":17,"v":90},{"r":37,"c":18,"v":96},{"r":37,"c":19,"v":96},{"r":37,"c":20,"v":90},{"r":37,"c":21,"v":76},{"r":37,"c":22,"v":66},{"r":37,"c":23,"v":60},{"r":37,"c":24,"v":52},{"r":37,"c":25,"v":48},{"r":37,"c":26,"v":44},{"r":37,"c":27,"v":42},{"r":37,"c":28,"v":42},{"r":37,"c":29,"v":42},{"r":37,"c":30,"v":42},{"r":37,"c":31,"v":44},{"r":37,"c":32,"v":44},{"r":37,"c":33,"v":42},{"r":37,"c":34,"v":38},{"r":37,"c":35,"v":32},{"r":37,"c":36,"v":8},{"r":37,"c":37,"v":3}
  ]
},
"concat": [
  {
    "width": 356, "height": 212,
    "title": {"text": "Nodes Locations", "offset": -2},
    "data": {"name": "nodes"},
    "layer": [
      {
        "mark": {"type": "point", "shape": "diamond", "filled": true, "color": "black", "size": 60, "opacity": 1},
        "encoding": {
          "x": {"field": "x", "type": "quantitative", "scale": {"domain": [0, 100], "nice": false, "zero": false}, "axis": {"values": [0, 50, 100], "title": null, "labelPadding": 17}},
          "y": {"field": "y", "type": "quantitative", "scale": {"domain": [0, 60], "nice": false}, "axis": {"values": [0, 20, 40, 60], "title": null}}
        }
      },
      {
        "mark": {"type": "point", "opacity": 0},
        "encoding": {
          "x": {"field": "x", "type": "quantitative", "axis": {"values": [0, 50, 100], "labels": false, "title": null}},
          "y": {"field": "y", "type": "quantitative", "axis": {"values": [0, 20, 40, 60], "labels": false, "title": null}}
        }
      }
    ],
    "resolve": {"axis": {"x": "independent", "y": "independent"}}
  },
  {
    "width": 356, "height": 212,
    "title": {"text": "convergence\u00a0 Matrix", "offset": 9},
    "data": {"name": "m"},
    "layer": [
      {
        "mark": {"type": "rect"},
        "encoding": {
          "x": {"field": "c", "type": "ordinal", "scale": {"paddingInner": 0, "paddingOuter": 0}, "axis": {"values": [10, 20, 30], "labelAngle": 0, "title": null, "labelPadding": 17}},
          "y": {"field": "r", "type": "ordinal", "scale": {"paddingInner": 0, "paddingOuter": 0}, "axis": {"values": [10, 20, 30], "title": null}},
          "color": {"field": "v", "type": "quantitative", "scale": {"domain": [0, 12.5, 37.5, 62.5, 87.5, 100], "range": ["#00008f", "#0000ff", "#00ffff", "#ffff00", "#ff0000", "#800000"], "interpolate": "rgb"}, "legend": null}
        }
      },
      {
        "mark": {"type": "rect", "opacity": 0},
        "encoding": {
          "x": {"field": "c", "type": "ordinal", "axis": {"values": [10, 20, 30], "labels": false, "title": null}},
          "y": {"field": "r", "type": "ordinal", "axis": {"values": [10, 20, 30], "labels": false, "title": null}}
        }
      }
    ],
    "resolve": {"axis": {"x": "independent", "y": "independent"}}
  },
  {
    "width": 356, "height": 212,
    "title": {"text": "Trips Distance = 301.0036", "offset": -2},
    "data": {"name": "tour"},
    "layer": [
      {
        "mark": {"type": "line", "color": "#b01820", "strokeWidth": 1},
        "encoding": {
          "x": {"field": "x", "type": "quantitative", "scale": {"domain": [0, 100], "nice": false, "zero": false}, "axis": {"values": [0, 50, 100], "title": null, "labelPadding": 10}},
          "y": {"field": "y", "type": "quantitative", "scale": {"domain": [0, 60], "nice": false}, "axis": {"values": [0, 20, 40, 60], "title": null}},
          "order": {"field": "i", "type": "quantitative"}
        }
      },
      {
        "mark": {"type": "point", "shape": "diamond", "filled": true, "color": "#d40818", "size": 55, "opacity": 1},
        "encoding": {
          "x": {"field": "x", "type": "quantitative", "axis": {"values": [0, 50, 100], "labels": false, "title": null}},
          "y": {"field": "y", "type": "quantitative", "axis": {"values": [0, 20, 40, 60], "labels": false, "title": null}}
        }
      }
    ],
    "resolve": {"axis": {"x": "independent", "y": "independent"}}
  },
  {
    "width": 356, "height": 212,
    "title": {"text": "Distance Vs iteration", "offset": 9},
    "data": {"name": "conv"},
    "layer": [
      {
        "mark": {"type": "line", "color": "#0a0ad2", "strokeWidth": 2.5},
        "encoding": {
          "x": {"field": "it", "type": "quantitative", "scale": {"domain": [0, 10000], "nice": false, "zero": false}, "axis": {"values": [0, 5000, 10000], "format": "d", "title": null, "labelPadding": 10}},
          "y": {"field": "d", "type": "quantitative", "scale": {"domain": [0, 500], "nice": false}, "axis": {"values": [0, 200, 400], "title": null}}
        }
      },
      {
        "mark": {"type": "point", "opacity": 0},
        "encoding": {
          "x": {"field": "it", "type": "quantitative", "axis": {"values": [0, 5000, 10000], "labels": false, "title": null}},
          "y": {"field": "d", "type": "quantitative", "axis": {"values": [0, 200, 400], "labels": false, "title": null}}
        }
      }
    ],
    "resolve": {"axis": {"x": "independent", "y": "independent"}}
  }
]
}
